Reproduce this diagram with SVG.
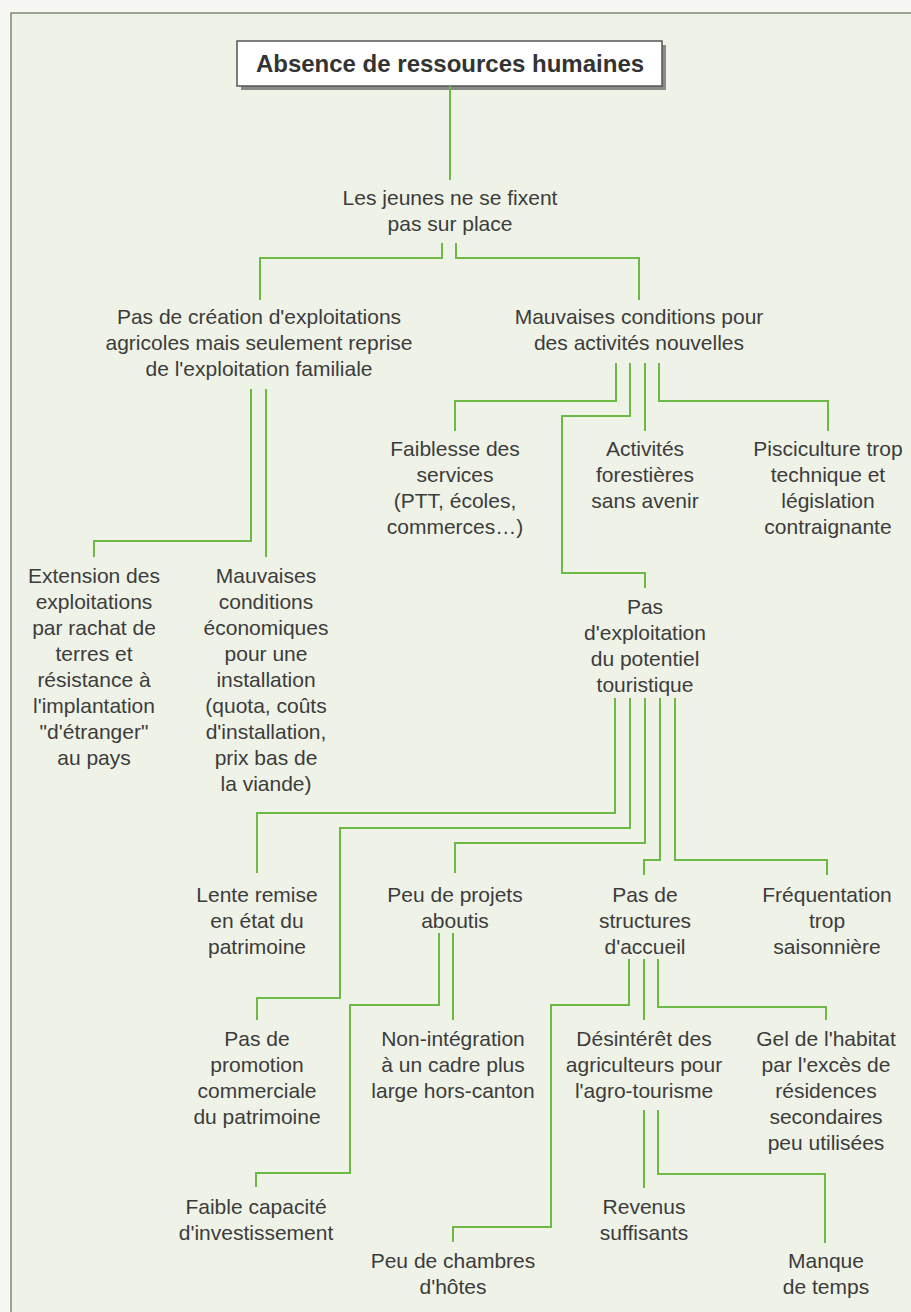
<svg xmlns="http://www.w3.org/2000/svg" width="911" height="1312" viewBox="0 0 911 1312">
<style>
.t{font-family:"Liberation Sans",Arial,sans-serif;font-size:21px;fill:#3c3c3c;text-anchor:middle}
.h{font-family:"Liberation Sans",Arial,sans-serif;font-size:24px;font-weight:bold;fill:#333;text-anchor:middle}
.c path{fill:none;stroke:#6cba45;stroke-width:2}
</style>
<rect x="0" y="0" width="911" height="1312" fill="#f7f8f3"/>
<rect x="11" y="13" width="910" height="1310" fill="#eff2e7"/>
<path d="M11,1312 V13 H911" fill="none" stroke="#7d8a76" stroke-width="1.5"/>
<g id="n0">
<rect x="241" y="45" width="425" height="45" fill="#8a8a8a"/>
<rect x="237" y="41" width="425" height="45" fill="#fff" stroke="#555" stroke-width="1.5"/>
<text class="h" x="450" y="72">Absence de ressources humaines</text>
</g>
<g class="c" id="connectors">
<path d="M450,86 V180"/>
<path d="M442,243 V258 H260 V300"/>
<path d="M456,243 V258 H639 V300"/>
<path d="M251,389 V541 H94 V557"/>
<path d="M266,389 V557"/>
<path d="M616,363 V401 H455 V431"/>
<path d="M630,363 V416 H562 V573 H645 V588"/>
<path d="M645,363 V431"/>
<path d="M659,363 V401 H828 V431"/>
<path d="M615,698 V813 H257 V873"/>
<path d="M630,698 V828 H340 V998 H257 V1020"/>
<path d="M645,698 V843 H455 V873"/>
<path d="M660,698 V860 H644 V875"/>
<path d="M675,698 V860 H827 V875"/>
<path d="M439,933 V1005 H350 V1173 H256 V1187"/>
<path d="M453,933 V1020"/>
<path d="M629,959 V1005 H551 V1227 H453 V1242"/>
<path d="M644,959 V1020"/>
<path d="M658,959 V1007 H826 V1020"/>
<path d="M644,1110 V1188"/>
<path d="M658,1110 V1174 H825 V1243"/>
</g>
<g id="n1"><text class="t" x="450" y="205">Les jeunes ne se fixent</text><text class="t" x="450" y="231">pas sur place</text></g>
<g id="n2"><text class="t" x="259" y="324">Pas de création d'exploitations</text><text class="t" x="259" y="350">agricoles mais seulement reprise</text><text class="t" x="259" y="376">de l'exploitation familiale</text></g>
<g id="n3"><text class="t" x="639" y="324">Mauvaises conditions pour</text><text class="t" x="639" y="350">des activités nouvelles</text></g>
<g id="n4"><text class="t" x="455" y="456">Faiblesse des</text><text class="t" x="455" y="482">services</text><text class="t" x="455" y="508">(PTT, écoles,</text><text class="t" x="455" y="534">commerces…)</text></g>
<g id="n5"><text class="t" x="645" y="456">Activités</text><text class="t" x="645" y="482">forestières</text><text class="t" x="645" y="508">sans avenir</text></g>
<g id="n6"><text class="t" x="828" y="456">Pisciculture trop</text><text class="t" x="828" y="482">technique et</text><text class="t" x="828" y="508">législation</text><text class="t" x="828" y="534">contraignante</text></g>
<g id="n7"><text class="t" x="94" y="583">Extension des</text><text class="t" x="94" y="609">exploitations</text><text class="t" x="94" y="635">par rachat de</text><text class="t" x="94" y="661">terres et</text><text class="t" x="94" y="687">résistance à</text><text class="t" x="94" y="713">l'implantation</text><text class="t" x="94" y="739">"d'étranger"</text><text class="t" x="94" y="765">au pays</text></g>
<g id="n8"><text class="t" x="266" y="583">Mauvaises</text><text class="t" x="266" y="609">conditions</text><text class="t" x="266" y="635">économiques</text><text class="t" x="266" y="661">pour une</text><text class="t" x="266" y="687">installation</text><text class="t" x="266" y="713">(quota, coûts</text><text class="t" x="266" y="739">d'installation,</text><text class="t" x="266" y="765">prix bas de</text><text class="t" x="266" y="791">la viande)</text></g>
<g id="n9"><text class="t" x="645" y="614">Pas</text><text class="t" x="645" y="640">d'exploitation</text><text class="t" x="645" y="666">du potentiel</text><text class="t" x="645" y="692">touristique</text></g>
<g id="n10"><text class="t" x="257" y="902">Lente remise</text><text class="t" x="257" y="928">en état du</text><text class="t" x="257" y="954">patrimoine</text></g>
<g id="n11"><text class="t" x="455" y="902">Peu de projets</text><text class="t" x="455" y="928">aboutis</text></g>
<g id="n12"><text class="t" x="645" y="902">Pas de</text><text class="t" x="645" y="928">structures</text><text class="t" x="645" y="954">d'accueil</text></g>
<g id="n13"><text class="t" x="827" y="902">Fréquentation</text><text class="t" x="827" y="928">trop</text><text class="t" x="827" y="954">saisonnière</text></g>
<g id="n14"><text class="t" x="257" y="1046">Pas de</text><text class="t" x="257" y="1072">promotion</text><text class="t" x="257" y="1098">commerciale</text><text class="t" x="257" y="1124">du patrimoine</text></g>
<g id="n15"><text class="t" x="453" y="1046">Non-intégration</text><text class="t" x="453" y="1072">à un cadre plus</text><text class="t" x="453" y="1098">large hors-canton</text></g>
<g id="n16"><text class="t" x="644" y="1046">Désintérêt des</text><text class="t" x="644" y="1072">agriculteurs pour</text><text class="t" x="644" y="1098">l'agro-tourisme</text></g>
<g id="n17"><text class="t" x="826" y="1046">Gel de l'habitat</text><text class="t" x="826" y="1072">par l'excès de</text><text class="t" x="826" y="1098">résidences</text><text class="t" x="826" y="1124">secondaires</text><text class="t" x="826" y="1150">peu utilisées</text></g>
<g id="n18"><text class="t" x="256" y="1214">Faible capacité</text><text class="t" x="256" y="1240">d'investissement</text></g>
<g id="n19"><text class="t" x="644" y="1214">Revenus</text><text class="t" x="644" y="1240">suffisants</text></g>
<g id="n20"><text class="t" x="453" y="1268">Peu de chambres</text><text class="t" x="453" y="1294">d'hôtes</text></g>
<g id="n21"><text class="t" x="826" y="1268">Manque</text><text class="t" x="826" y="1294">de temps</text></g>
</svg>
